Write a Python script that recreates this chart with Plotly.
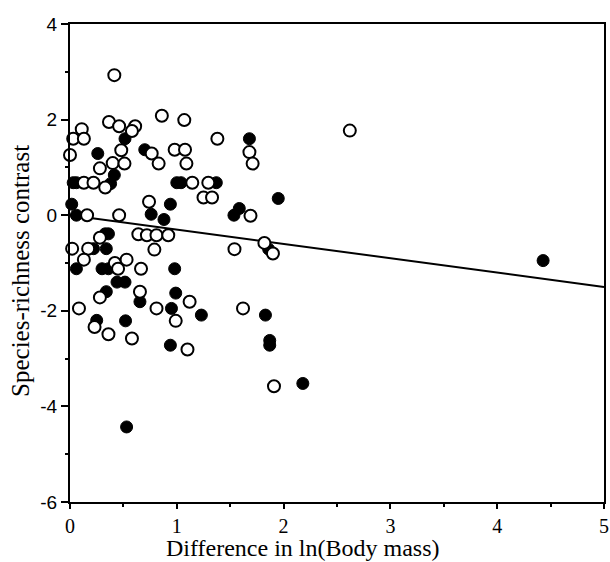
import plotly.graph_objects as go

# Open circles
open_x = [0.415, 0.365, 0.46, 0.61, 0.58, 0.86, 1.07, 0.11, 0.03, 0.13, 0.0, 0.48, 0.765, 0.83,
          0.98, 1.077, 1.09, 1.38, 0.28, 0.40, 0.51, 0.33, 0.13, 0.22, 1.145, 1.295, 1.25, 1.33,
          0.74, 0.16, 0.46, 1.68, 1.71, 2.62, 1.69, 0.28, 0.64, 0.72, 0.81, 0.92, 0.79, 0.02,
          0.17, 0.13, 0.42, 0.45, 0.53, 0.665, 0.28, 0.655, 0.81, 1.12, 0.99, 0.084, 0.23, 0.36,
          0.58, 1.10, 1.54, 1.82, 1.90, 1.62, 1.91]
open_y = [2.93, 1.95, 1.86, 1.86, 1.76, 2.08, 1.99, 1.80, 1.60, 1.60, 1.26, 1.36, 1.29, 1.08,
          1.37, 1.37, 1.08, 1.60, 0.98, 1.09, 1.08, 0.58, 0.68, 0.68, 0.68, 0.68, 0.37, 0.37,
          0.28, 0.0, 0.0, 1.32, 1.08, 1.77, -0.01, -0.47, -0.40, -0.42, -0.42, -0.42, -0.72, -0.70,
          -0.70, -0.93, -1.0, -1.12, -0.93, -1.12, -1.72, -1.60, -1.95, -1.81, -2.21, -1.95, -2.34, -2.49,
          -2.58, -2.81, -0.71, -0.58, -0.80, -1.95, -3.58]

# Filled circles
filled_x = [0.515, 0.26, 0.70, 0.415, 0.38, 0.03, 0.06, 1.00, 1.04, 1.37, 0.94, 0.76, 0.88,
            0.016, 0.06, 0.33, 0.36, 0.22, 0.34, 0.06, 0.30, 0.36, 0.98, 0.44, 0.515, 0.34,
            0.655, 0.99, 0.95, 1.23, 0.25, 0.52, 0.94, 0.53, 1.68, 1.95, 1.585, 1.535, 1.86,
            1.83, 1.87, 1.87, 2.18, 4.43]
filled_y = [1.60, 1.29, 1.37, 0.84, 0.66, 0.68, 0.68, 0.68, 0.68, 0.68, 0.23, 0.02, -0.09,
            0.23, 0.0, -0.39, -0.39, -0.70, -0.70, -1.12, -1.12, -1.12, -1.12, -1.40, -1.40, -1.60,
            -1.81, -1.63, -1.95, -2.09, -2.20, -2.21, -2.72, -4.43, 1.60, 0.35, 0.14, 0.0, -0.71,
            -2.09, -2.62, -2.72, -3.52, -0.95]

# Regression line
fit_x = [0, 5]
fit_y = [0.0, -1.5]

x_tick_vals = [0, 1, 2, 3, 4, 5]
x_tick_labels = ["0", "1", "2", "3", "4", "5"]
y_tick_vals = [-6, -4, -2, 0, 2, 4]
y_tick_labels = ["-6", "-4", "-2", "0", "2", "4"]
x_title = "Difference in ln(Body mass)"
y_title = "Species-richness contrast"

fig = go.Figure()
fig.add_trace(go.Scatter(x=fit_x, y=fit_y, mode="lines",
                         line=dict(color="black", width=2), cliponaxis=False, showlegend=False))
fig.add_trace(go.Scatter(x=filled_x, y=filled_y, mode="markers",
                         marker=dict(symbol="circle", size=12, color="black",
                                     line=dict(color="black", width=1)),
                         cliponaxis=False, showlegend=False))
fig.add_trace(go.Scatter(x=open_x, y=open_y, mode="markers",
                         marker=dict(symbol="circle", size=12, color="white",
                                     line=dict(color="black", width=2)),
                         cliponaxis=False, showlegend=False))

fig.update_layout(
    width=610, height=562,
    margin=dict(l=70, r=6, t=24, b=60, autoexpand=False),
    paper_bgcolor="white", plot_bgcolor="white",
    showlegend=False,
    xaxis=dict(
        range=[0, 5], tickvals=x_tick_vals, ticktext=x_tick_labels,
        showgrid=False, zeroline=False,
        showline=True, linecolor="black", linewidth=2, mirror=True,
        ticks="outside", ticklen=5, tickwidth=1.5, tickcolor="black",
        minor=dict(dtick=0.5, ticks="outside", ticklen=3, tickwidth=1.5, tickcolor="black"),
        tickfont=dict(family="Liberation Serif", size=20, color="black"),
        automargin=False,
    ),
    yaxis=dict(
        range=[-6, 4], tickvals=y_tick_vals, ticktext=y_tick_labels,
        showgrid=False, zeroline=False,
        showline=True, linecolor="black", linewidth=2, mirror=True,
        ticks="outside", ticklen=7, tickwidth=1.5, tickcolor="black",
        minor=dict(dtick=1, ticks="outside", ticklen=3, tickwidth=1.5, tickcolor="black"),
        tickfont=dict(family="Liberation Sans", size=19, color="black"),
        automargin=False,
    ),
    annotations=[
        dict(text=x_title, xref="paper", yref="paper", x=0.436, y=-0.1255,
             xanchor="center", yanchor="bottom", showarrow=False, borderpad=0,
             font=dict(family="Liberation Serif", size=24, color="black")),
        dict(text=y_title, xref="paper", yref="paper", x=-0.094, y=0.483,
             xanchor="center", yanchor="middle", textangle=-90, showarrow=False,
             font=dict(family="Liberation Serif", size=25, color="black")),
    ],
)

# remove the default 8px page margin so the 610x562 figure fills the window exactly
fig.write_html("out.html", config={"displayModeBar": False},
               post_script="document.body.style.margin='0px';document.body.style.overflow='hidden';")
